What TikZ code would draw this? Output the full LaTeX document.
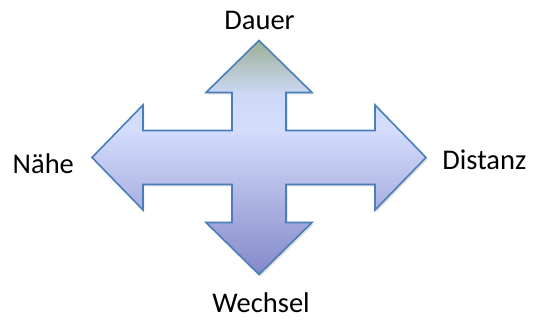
\documentclass[tikz,border=0pt]{standalone}
\usepackage{fontspec}
\setmainfont{Carlito}
\usetikzlibrary{shadows}

\definecolor{tipgreen}{HTML}{9BB096}
\definecolor{headblue}{HTML}{CDD9F7}
\definecolor{lightblue}{HTML}{D4DDFC}
\definecolor{deepblue}{HTML}{8489C8}
\definecolor{rimblue}{HTML}{4A7EBB}

\pgfdeclareverticalshading{crossfill}{100bp}{color(0bp)=(deepblue); color(25bp)=(deepblue); color(56bp)=(lightblue); color(63.5bp)=(headblue); color(75bp)=(tipgreen); color(100bp)=(tipgreen)}

\begin{document}
\begin{tikzpicture}[x=1pt,y=1pt]
        \useasboundingbox (-259,-162.5) rectangle (275,157.5);

        \draw[rimblue, line width=1.6pt, line join=miter, shading=crossfill,
              drop shadow={opacity=0.25, shadow xshift=1.5pt, shadow yshift=-2pt}]
            (0,117) -- (53,65) -- (27,65) -- (27,27) -- (116,27) -- (116,52.5)
            -- (167,0) -- (116,-52.5) -- (116,-27) -- (27,-27) -- (27,-65)
            -- (53,-65) -- (0,-117) -- (-53,-65) -- (-27,-65) -- (-27,-27)
            -- (-116,-27) -- (-116,-52.5) -- (-167,0) -- (-116,52.5) -- (-116,27)
            -- (-27,27) -- (-27,65) -- (-53,65) -- cycle;

        \begin{scope}[every node/.style={inner sep=0pt, font=\fontsize{28.5}{34}\selectfont}]
            \node[anchor=base] (dauer) at (0.5,128.2) {Dauer};
            \node[anchor=base west] (naehe) at (-246.5,-15.8) {Nähe};
            \node[anchor=base west] (distanz) at (183.2,-11.8) {Distanz};
            \node[anchor=base] (wechsel) at (2,-154.8) {Wechsel};
        \end{scope}
    \end{tikzpicture}
\end{document}
